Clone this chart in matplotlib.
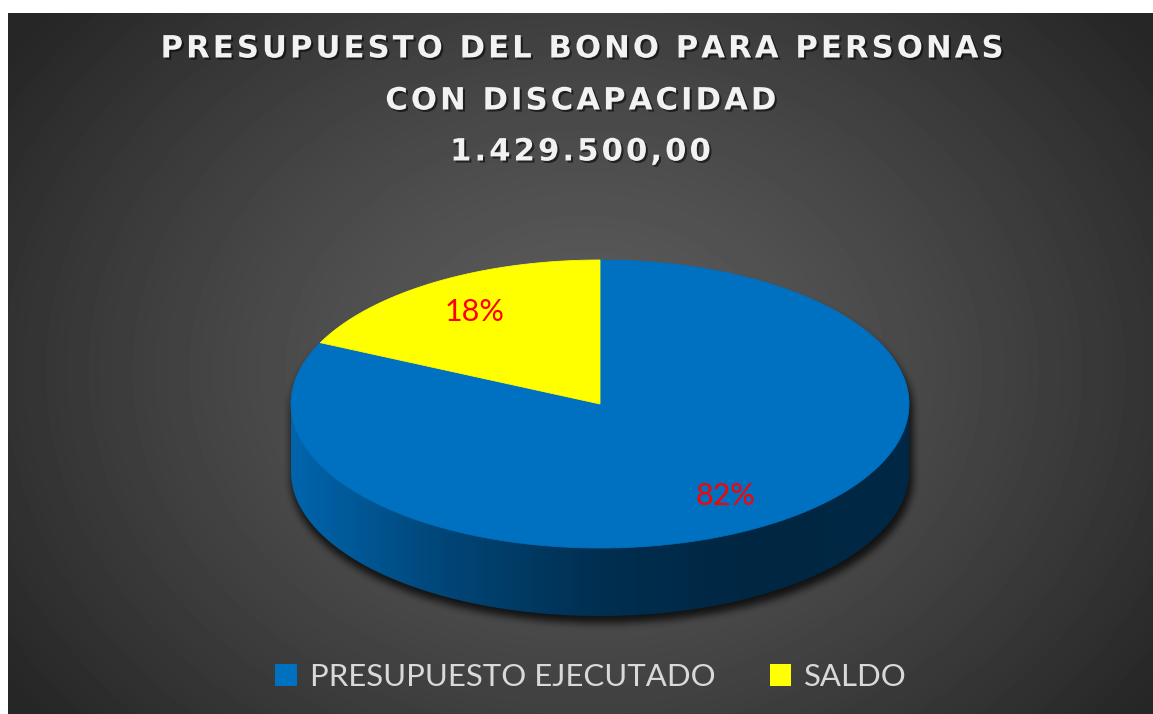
import matplotlib
matplotlib.use('Agg')
import matplotlib.pyplot as plt
import numpy as np

from matplotlib import patheffects
from matplotlib.colors import LinearSegmentedColormap, to_rgb
from matplotlib.patches import Polygon, Patch

FIG_W, FIG_H = 1153, 714

TITLE_LINES = ['PRESUPUESTO DEL BONO PARA PERSONAS', 'CON DISCAPACIDAD', '1.429.500,00']
CATEGORIES = ['PRESUPUESTO EJECUTADO', 'SALDO']
SHARES = [82, 18]
COLORS = ['#0070C0', '#FFFF00']

# pie geometry, in pixels
CX, CY = 600, 404
RX, RY = 309, 144
DEPTH = 68
LABEL_R = 0.76


def blur(a, k):
    ker = np.ones(k) / k
    a = np.apply_along_axis(lambda r: np.convolve(r, ker, mode='same'), 1, a)
    a = np.apply_along_axis(lambda c: np.convolve(c, ker, mode='same'), 0, a)
    return a


def spaced(s):
    # expanded letter spacing, like the original title
    return '\u200a'.join(s)


def background(axes):
    yy, xx = np.mgrid[13:FIG_H, 8:FIG_W]
    d = np.sqrt(((xx - 585) / 700.0) ** 2 + ((yy - 370) / 560.0) ** 2)
    d = np.clip(d, 0, 1) ** 1.3
    light, dark = 0x5d / 255, 0x26 / 255
    v = light + (dark - light) * d
    axes.imshow(v, cmap='gray', vmin=0, vmax=1, extent=(8, FIG_W, FIG_H, 13),
                interpolation='bilinear', zorder=0)


def shadow(axes):
    yy, xx = np.mgrid[0:FIG_H, 0:FIG_W] + 0.5
    u = (xx - CX - 2) / (RX + 2)
    h = np.sqrt(np.clip(1 - u ** 2, 0, None))
    sy = CY + 7
    mask = (np.abs(u) <= 1) & (yy >= sy - RY * h) & (yy <= sy + DEPTH + RY * h)
    m = blur(blur(mask.astype(float), 9), 9)
    rgba = np.zeros((FIG_H, FIG_W, 4))
    rgba[..., 3] = m * 0.75
    axes.imshow(rgba, extent=(0, FIG_W, FIG_H, 0), zorder=1)


def ellipse_pts(theta, dy=0.0):
    t = np.radians(theta)
    return np.column_stack([CX + RX * np.cos(t), CY + dy - RY * np.sin(t)])


def main():
    figure = plt.figure(figsize=(FIG_W / 100, FIG_H / 100), dpi=100, facecolor='white')
    axes = figure.add_axes([0, 0, 1, 1])
    axes.set_xlim(0, FIG_W)
    axes.set_ylim(FIG_H, 0)
    axes.axis('off')

    background(axes)
    shadow(axes)

    total = float(sum(SHARES))
    start = 90.0
    for value, color, in zip(SHARES, COLORS):
        sweep = 360.0 * value / total
        end = start - sweep
        theta = np.linspace(start, end, 400)

        # visible side (front half)
        keep = np.sin(np.radians(theta)) <= 0
        if keep.any():
            arc = theta[keep]
            top = ellipse_pts(arc)
            bottom = ellipse_pts(arc[::-1], DEPTH)
            side = Polygon(np.vstack([top, bottom]), closed=True,
                           facecolor='none', edgecolor='none', transform=axes.transData)
            axes.add_patch(side)
            base = np.array(to_rgb(color))
            cmap = LinearSegmentedColormap.from_list(
                'side', [base * 0.9, base * 0.62, base * 0.42, base * 0.34, base * 0.36])
            grad = np.linspace(0, 1, 256).reshape(1, -1)
            img = axes.imshow(grad, cmap=cmap, aspect='auto',
                              extent=(CX - RX, CX + RX, CY + RY + DEPTH + 2, CY - 2),
                              zorder=2)
            img.set_clip_path(side)

        # top face
        pts = np.vstack([[CX, CY], ellipse_pts(theta)])
        axes.add_patch(Polygon(pts, closed=True, facecolor=color, edgecolor=color,
                               linewidth=0.6, zorder=3))

        mid = np.radians(start - sweep / 2)
        axes.text(CX + LABEL_R * RX * np.cos(mid), CY - LABEL_R * RY * np.sin(mid),
                  f'{value:.0f}%', color='#FF0000', fontsize=22, family='Lato',
                  ha='center', va='center', zorder=4)
        start = end

    title_y = [49, 101, 152]
    for line, y in zip(TITLE_LINES, title_y):
        axes.text(580, y, spaced(line), color='#F2F2F2', fontsize=22.1, fontweight='bold',
                  family='DejaVu Sans', ha='center', va='center', zorder=5,
                  path_effects=[patheffects.withSimplePatchShadow(
                      offset=(1.5, -1.5), shadow_rgbFace='black', alpha=0.55)])

    handles = [Patch(facecolor=c, edgecolor='none', label=l) for l, c in zip(CATEGORIES, COLORS)]
    figure.legend(handles=handles, loc='center', bbox_to_anchor=(591 / FIG_W, 1 - 677 / FIG_H),
                  ncol=2, frameon=False, prop={'family': 'Lato', 'size': 22.4},
                  labelcolor='#D9D9D9', handlelength=0.7, handleheight=0.7,
                  handletextpad=0.4, columnspacing=1.75)

    figure.savefig('out.png', dpi=100, facecolor='white')


if __name__ == "__main__":
    main()
